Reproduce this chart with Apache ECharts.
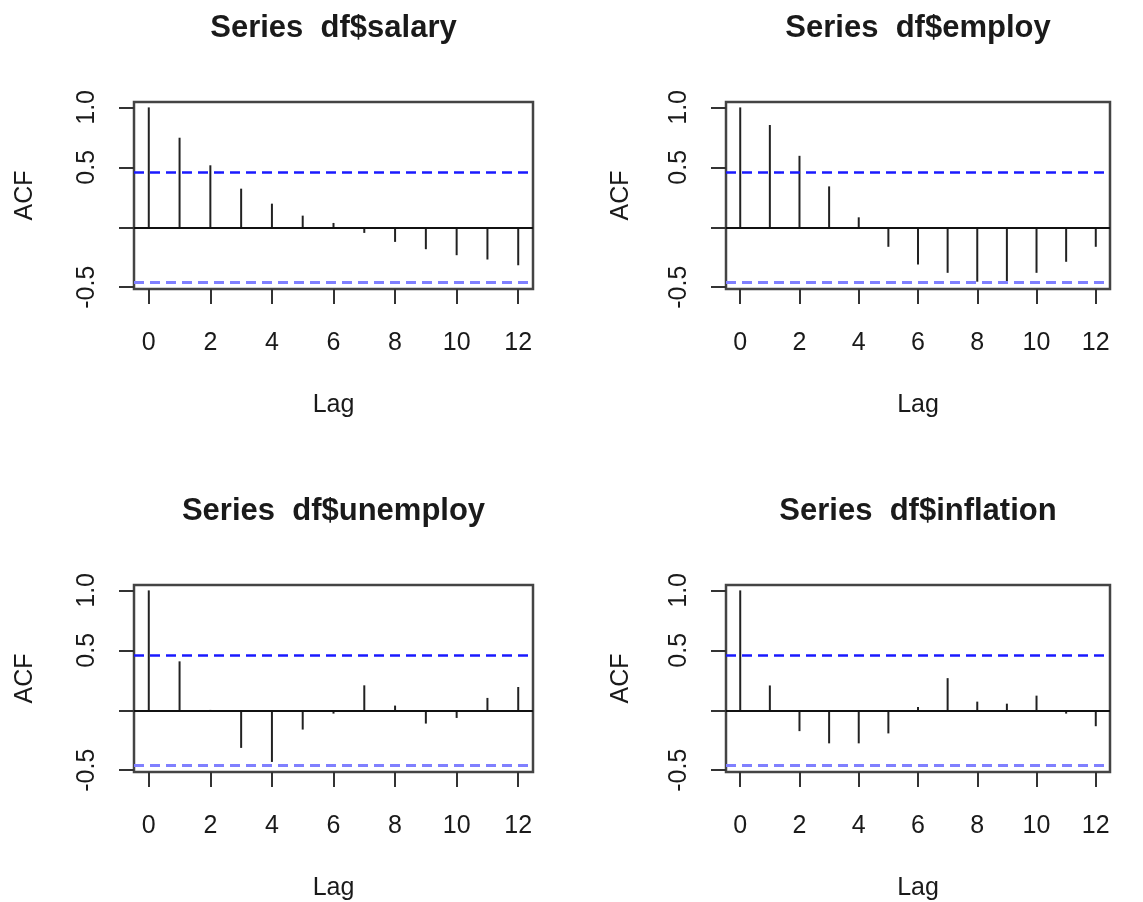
<!DOCTYPE html>
<html>
<head>
<meta charset="utf-8">
<script src="https://cdn.jsdelivr.net/npm/echarts@6/dist/echarts.min.js"></script>
<style>
html,body{margin:0;padding:0;background:#fff;}
#chart{width:1143px;height:902px;}
</style>
</head>
<body>
<div id="chart"></div>
<script>
// ---- data ----
const lags = [0, 1, 2, 3, 4, 5, 6, 7, 8, 9, 10, 11, 12];
const salaryAcf    = [1.0, 0.747, 0.517, 0.322, 0.197, 0.097, 0.036, -0.047, -0.122, -0.183, -0.233, -0.269, -0.317];
const employAcf    = [1.0, 0.853, 0.596, 0.341, 0.083, -0.163, -0.310, -0.380, -0.454, -0.454, -0.380, -0.288, -0.163];
const unemployAcf  = [1.0, 0.408, 0.003, -0.314, -0.431, -0.161, -0.028, 0.208, 0.039, -0.111, -0.064, 0.103, 0.194];
const inflationAcf = [1.0, 0.207, -0.174, -0.276, -0.276, -0.193, 0.028, 0.268, 0.072, 0.055, 0.122, -0.028, -0.133];
const panelTitles = ['Series  df$salary', 'Series  df$employ', 'Series  df$unemploy', 'Series  df$inflation'];
const xTickValues = [0, 2, 4, 6, 8, 10, 12];
const yTickValues = [-0.5, 0, 0.5, 1.0];
const yLabelValues = [-0.5, 0.5, 1.0];
const ciBound = 0.462;
const xName = 'Lag';
const yName = 'ACF';

const acfSets = [salaryAcf, employAcf, unemployAcf, inflationAcf];

// ---- layout ----
const panels = [
  {left: 134, top: 102, width: 399, height: 187, yNameGap: 96},
  {left: 726, top: 102, width: 384, height: 187, yNameGap: 92},
  {left: 134, top: 585, width: 399, height: 188, yNameGap: 96},
  {left: 726, top: 585, width: 384, height: 188, yNameGap: 92}
];
const FONT = "'Liberation Sans', Arial, sans-serif";
const TXT = '#1a1a1a';

const chart = echarts.init(document.getElementById('chart'), null, {renderer: 'canvas'});

const grids = [], xAxes = [], yAxes = [], series = [], titles = [];
panels.forEach((p, i) => {
  grids.push({left: p.left, top: p.top, width: p.width, height: p.height,
    show: true, borderColor: '#444', borderWidth: 2.5, backgroundColor: 'transparent', containLabel: false});
  xAxes.push({
    type: 'value', gridIndex: i, min: -0.48, max: 12.48, position: 'bottom',
    axisLine: {show: false, onZero: false},
    splitLine: {show: false},
    axisTick: {show: true, inside: false, length: 15, lineStyle: {color: '#333', width: 2}, customValues: xTickValues},
    axisLabel: {show: true, margin: 42, fontSize: 25, fontFamily: FONT, color: TXT, customValues: xTickValues,
      formatter: v => String(v)},
    name: xName, nameLocation: 'middle', nameGap: 104,
    nameTextStyle: {fontSize: 25, fontFamily: FONT, color: TXT}
  });
  yAxes.push({
    type: 'value', gridIndex: i, min: -0.515, max: 1.045, position: 'left',
    axisLine: {show: false, onZero: false},
    splitLine: {show: false},
    axisTick: {show: true, inside: false, length: 15, lineStyle: {color: '#333', width: 2}, customValues: yTickValues},
    axisLabel: {show: true, rotate: 90, margin: 34, fontSize: 25, fontFamily: FONT, color: TXT, customValues: yLabelValues,
      formatter: v => v.toFixed(1)},
    name: yName, nameLocation: 'middle', nameGap: p.yNameGap, nameRotate: 90,
    nameTextStyle: {fontSize: 25, fontFamily: FONT, color: TXT}
  });
  titles.push({
    text: panelTitles[i], left: p.left + p.width / 2, textAlign: 'center', padding: 0,
    top: p.top - 89,
    textStyle: {fontSize: 31, fontWeight: 'bold', fontFamily: FONT, color: TXT}
  });
  const data = lags.map((l, k) => [l, acfSets[i][k]]);
  series.push({
    type: 'custom', xAxisIndex: i, yAxisIndex: i, data: data, silent: true,
    renderItem: function (params, api) {
      const a = api.coord([api.value(0), 0]);
      const b = api.coord([api.value(0), api.value(1)]);
      return {type: 'line', shape: {x1: a[0], y1: a[1], x2: b[0], y2: b[1]},
        style: {stroke: '#222', lineWidth: 2}};
    },
    markLine: {
      silent: true, symbol: ['none', 'none'], label: {show: false}, animation: false,
      data: [
        {yAxis: 0, lineStyle: {color: '#111', width: 2, type: 'solid'}},
        {yAxis: ciBound, lineStyle: {color: '#1a1aff', width: 2.5, type: [10, 6]}},
        {yAxis: -ciBound, lineStyle: {color: '#8080ff', width: 3, type: [10, 6]}}
      ]
    }
  });
});

chart.setOption({
  animation: false,
  backgroundColor: '#fff',
  title: titles,
  grid: grids,
  xAxis: xAxes,
  yAxis: yAxes,
  series: series
});
</script>
</body>
</html>
